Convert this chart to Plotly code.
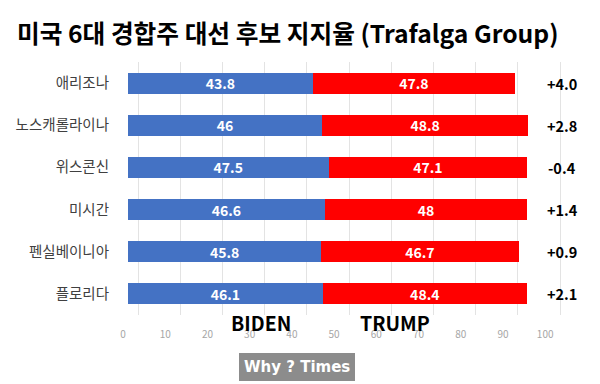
import plotly.graph_objects as go

states = ["애리조나", "노스캐롤라이나", "위스콘신", "미시간", "펜실베이니아", "플로리다"]
biden = [43.8, 46, 47.5, 46.6, 45.8, 46.1]
trump = [47.8, 48.8, 47.1, 48, 46.7, 48.4]
margins = ["+4.0", "+2.8", "-0.4", "+1.4", "+0.9", "+2.1"]
x_ticks = [0, 10, 20, 30, 40, 50, 60, 70, 80, 90, 100]

title = "미국 6대 경합주 대선 후보 지지율 (Trafalga Group)"
KR = "Noto Sans CJK KR"
GRID_OFFSET = 2.37  # back-plane (3D depth) offset of gridlines, in axis units

fig = go.Figure()
for vals, name, color in [(biden, "BIDEN", "#4472C4"), (trump, "TRUMP", "#FF0000")]:
    fig.add_trace(go.Bar(
        y=states, x=vals, orientation="h", name=name,
        marker=dict(color=color, line=dict(width=0)),
        texttemplate="%{x}", textposition="inside", insidetextanchor="middle",
        textangle=0, constraintext="none",
        textfont=dict(color="white", size=14, family=KR, weight="bold"),
    ))

annotations = []
for s, m in zip(states, margins):
    annotations.append(dict(
        x=1.0, xref="paper", y=s, yref="y", text=f"<b>{m}</b>", showarrow=False,
        xanchor="center", font=dict(size=14.5, color="black", family=KR),
    ))
annotations.append(dict(x=0.233, xref="paper", y=-0.03, yref="paper", yanchor="middle",
                        text="<b>BIDEN</b>", showarrow=False,
                        font=dict(size=19.5, color="black", family=KR)))
annotations.append(dict(x=0.70, xref="paper", y=-0.03, yref="paper", yanchor="middle",
                        text="<b>TRUMP</b>", showarrow=False,
                        font=dict(size=19.5, color="black", family=KR)))
annotations.append(dict(
    x=(297 - 128) / 434, xref="paper", xanchor="center", y=-0.205, yref="paper", yanchor="middle",
    text="<b>Why ? Times</b>", showarrow=False,
    font=dict(size=15, color="white", family="DejaVu Sans"),
    bgcolor="#8c8c8c", borderpad=4, bordercolor="#8c8c8c",
))

fig.update_layout(
    width=600, height=384,
    margin=dict(l=128, r=38, t=62, b=69),
    paper_bgcolor="white", plot_bgcolor="white",
    barmode="stack", bargap=0.5, showlegend=False,
    title=dict(text="<b>" + title + "</b>", x=17 / 600, xanchor="left", y=1 - 34 / 384, yanchor="middle",
               font=dict(size=24.7, color="black", family=KR)),
    xaxis=dict(range=[0, 102.8],
               tickvals=[t + GRID_OFFSET for t in x_ticks], ticktext=[str(t) for t in x_ticks],
               showgrid=True, gridcolor="#e3e3e3", gridwidth=1, zeroline=False,
               showline=False, ticks="", ticklabelshift=-15, ticklabelstandoff=12,
               tickfont=dict(size=10, color="#a6a6a6", family=KR)),
    yaxis=dict(autorange="reversed", showgrid=False, zeroline=False, showline=False,
               ticks="", ticklabelstandoff=18,
               tickfont=dict(size=14.5, color="#404040", family=KR)),
    annotations=annotations,
)

fig.write_html("out.html", config={"displayModeBar": False},
               post_script="document.body.style.margin='0';")
